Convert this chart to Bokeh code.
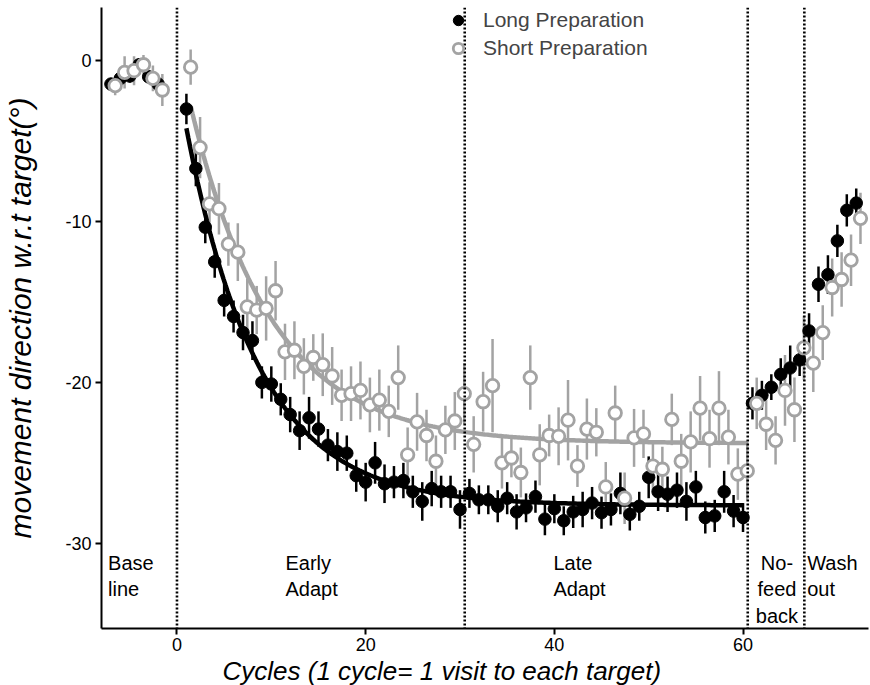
import numpy as np
from bokeh.plotting import figure
from bokeh.models import (ColumnDataSource, Span, Whisker, Legend, LegendItem,
                          FixedTicker, Range1d, Title)
from bokeh.transform import dodge
from bokeh.embed import file_html
from bokeh.resources import INLINE
from bokeh.core.properties import value

# ---------------- data ----------------
cycles = [-7, -6, -5, -4, -3, -2] + list(range(1, 73))

long_mean = [-1.45, -1.1, -0.95, -0.25, -1.0, -1.45,
             -3.0, -6.7, -10.35, -12.5, -14.9, -15.9, -16.9, -17.4, -20.0, -20.1,
             -21.05, -22.0, -23.0, -22.2, -22.9, -23.9, -24.3, -24.4, -25.8, -26.2,
             -25.0, -26.3, -26.2, -26.1, -26.8, -27.4, -26.6, -26.8, -26.8, -27.9,
             -26.9, -27.3, -27.3, -27.7, -27.2, -28.05, -27.8, -27.1, -28.5, -27.85,
             -28.6, -28.05, -27.9, -27.5, -28.1, -27.9, -26.9, -28.2, -27.7, -25.9,
             -26.8, -26.95, -26.7, -27.4, -26.5, -28.4, -28.3, -26.8, -28.0, -28.4,
             -21.3, -20.8, -20.3, -19.5, -19.1, -18.6,
             -16.8, -13.9, -13.3, -11.2, -9.3, -8.85]
long_sem = [0.35, 0.4, 0.4, 0.4, 0.4, 0.4,
            0.95, 1.1, 1.0, 1.0, 1.0, 1.0, 1.1, 1.2, 1.0, 1.1,
            1.0, 1.1, 1.2, 1.3, 1.1, 1.0, 1.2, 1.1, 1.0, 1.2,
            1.3, 1.2, 1.0, 1.1, 1.0, 1.2, 1.1, 1.0, 1.0, 1.2,
            0.9, 0.9, 0.9, 1.0, 1.0, 1.1, 0.9, 1.0, 1.0, 0.9,
            0.9, 1.0, 1.1, 1.0, 1.0, 1.0, 1.3, 1.0, 0.9, 1.3,
            1.2, 1.1, 1.1, 1.2, 1.0, 1.0, 1.0, 1.3, 1.0, 0.9,
            1.0, 0.9, 0.8, 1.0, 1.4, 1.0,
            1.1, 1.1, 1.2, 1.0, 1.0, 0.9]

short_mean = [-1.55, -0.72, -0.62, -0.25, -1.1, -1.82,
              -0.4, -5.4, -8.9, -9.2, -11.4, -11.9, -15.3, -15.5, -15.4, -14.3,
              -18.1, -18.0, -19.0, -18.45, -18.9, -19.6, -20.8, -20.7, -20.5, -21.4,
              -21.1, -21.8, -19.7, -24.5, -22.45, -23.3, -24.9, -22.95, -22.4, -20.7,
              -23.85, -21.2, -20.2, -25.0, -24.7, -25.6, -19.7, -24.5, -23.3, -23.35,
              -22.35, -25.2, -22.9, -23.1, -26.5, -21.9, -27.2, -23.45, -23.2, -25.2,
              -25.4, -22.3, -24.9, -23.7, -21.6, -23.5, -21.6, -23.4, -25.7, -25.5,
              -21.3, -22.6, -23.6, -20.5, -21.7, -17.85,
              -18.8, -16.9, -14.1, -13.6, -12.4, -9.8]
short_sem = [0.6, 1.0, 0.9, 0.6, 0.8, 1.0,
             1.1, 1.9, 1.35, 1.6, 1.35, 1.8, 1.75, 1.5, 2.0, 1.85,
             1.75, 1.8, 1.75, 1.45, 1.95, 1.8, 1.6, 1.7, 1.8, 1.7,
             1.9, 1.6, 2.0, 1.7, 1.8, 1.6, 1.6, 1.5, 1.8, 1.9,
             1.75, 1.86, 2.9, 1.6, 1.2, 1.55, 2.0, 1.9, 1.3, 1.8,
             2.5, 1.3, 1.9, 1.5, 1.55, 1.7, 1.6, 1.8, 1.5, 1.6,
             1.4, 1.6, 1.7, 1.9, 2.0, 1.8, 2.3, 1.7, 1.6, 1.8,
             1.6, 1.6, 1.5, 2.2, 2.0, 2.0,
             1.8, 1.7, 1.8, 1.7, 1.6, 1.6]

phase_bounds = [0, 30.5, 60.5, 66.5]
phase_labels = ["Base\nline", "Early\nAdapt", "Late\nAdapt", "No-\nfeed\nback", "Wash\nout"]
phase_label_x = [-7.3, 11.5, 39.9, 63.6, 66.8]
phase_label_align = ["left", "left", "left", "center", "left"]

x_ticks = [0, 20, 40, 60]
y_ticks = [0, -10, -20, -30]
y_tick_labels = ["0", "-10", "-20", "-30"]

x_title = "Cycles (1 cycle= 1 visit to each target)"
y_title = "movement direction w.r.t target(°)"
series_names = ["Long Preparation", "Short Preparation"]

# ---------------- exponential fits on the adaptation cycles ----------------
def fit_exp(x, y):
    best = None
    for tau in np.linspace(0.5, 40, 3951):
        A = np.column_stack([np.ones_like(x), np.exp(-(x - 1) / tau)])
        coef, *_ = np.linalg.lstsq(A, y, rcond=None)
        sse = float(((A @ coef - y) ** 2).sum())
        if best is None or sse < best[0]:
            best = (sse, tau, coef)
    return best[1], best[2]

cyc = np.array(cycles, dtype=float)
adapt = (cyc >= 1) & (cyc <= 60)
fx = np.linspace(1, 60, 300)
tau_l, c_l = fit_exp(cyc[adapt], np.array(long_mean)[adapt])
tau_s, c_s = fit_exp(cyc[adapt], np.array(short_mean)[adapt])
fit_long = c_l[0] + c_l[1] * np.exp(-(fx - 1) / tau_l)
fit_short = c_s[0] + c_s[1] * np.exp(-(fx - 1) / tau_s)

# ---------------- sources ----------------
lm = np.array(long_mean); ls = np.array(long_sem)
sm = np.array(short_mean); ss = np.array(short_sem)
src = ColumnDataSource(dict(x=cyc, lm=lm, llo=lm - ls, lhi=lm + ls,
                            sm=sm, slo=sm - ss, shi=sm + ss))
fsrc = ColumnDataSource(dict(x=fx, fl=fit_long, fs=fit_short))

FONT = "Liberation Sans"
GRAY = "#a3a3a3"
OFF = 0.45

p = figure(width=870, height=685, output_backend="svg", toolbar_location=None,
           x_range=Range1d(-8, 73.3), y_range=Range1d(-35.3, 3.31),
           min_border_left=101, min_border_right=2, min_border_top=7,
           min_border_bottom=57)
p.outline_line_color = None
p.grid.visible = False
p.background_fill_color = "white"
p.border_fill_color = "white"

# phase boundaries
for b in phase_bounds:
    p.add_layout(Span(location=b, dimension="height", line_color="black",
                      line_width=2.6, line_dash="2 2"))

# fits
p.line(dodge("x", OFF), "fs", source=fsrc, line_color=GRAY, line_width=4.5)
p.line("x", "fl", source=fsrc, line_color="black", line_width=4.5)

# error bars
p.add_layout(Whisker(source=src, base=dodge("x", OFF), lower="slo", upper="shi",
                     line_color=GRAY, line_width=2.5, lower_head=None, upper_head=None))
p.add_layout(Whisker(source=src, base="x", lower="llo", upper="lhi",
                     line_color="black", line_width=2.5, lower_head=None, upper_head=None))

# points (short preparation drawn on top, as in the reference)
r_long = p.scatter("x", "lm", source=src, size=12.5, marker="circle",
                   fill_color="black", line_color="black")
r_short = p.scatter(dodge("x", OFF), "sm", source=src, size=12.5, marker="circle",
                    fill_color="white", line_color=GRAY, line_width=2.8)

# phase labels
lab_src = ColumnDataSource(dict(x=phase_label_x, y=[-30.55] * 5, t=phase_labels,
                                a=phase_label_align))
p.text("x", "y", text="t", source=lab_src, text_align="a", text_baseline="top",
       text_font=value(FONT), text_font_size="20px", text_color="black",
       text_line_height=1.2)

# axes
p.xaxis.ticker = FixedTicker(ticks=x_ticks)
p.yaxis.ticker = FixedTicker(ticks=y_ticks)
p.yaxis.major_label_overrides = {t: l for t, l in zip(y_ticks, y_tick_labels)}
for ax in (p.xaxis[0], p.yaxis[0]):
    ax.axis_line_width = 2
    ax.axis_line_color = "black"
    ax.major_tick_line_width = 2
    ax.major_tick_in = 0
    ax.major_tick_out = 6
    ax.minor_tick_line_color = None
    ax.major_label_text_font = FONT
    ax.major_label_text_font_size = "18px"
    ax.major_label_text_color = "black"
    ax.axis_label_text_font = FONT
    ax.axis_label_text_font_style = "italic"
    ax.axis_label_text_color = "black"
p.xaxis.major_label_standoff = 3
p.yaxis.axis_label = y_title
p.yaxis.axis_label_text_font_size = "30px"
p.yaxis.major_label_standoff = 4
p.yaxis.axis_label_standoff = 25

# x-axis title placed below the axis, shifted left as in the reference
p.add_layout(Title(text=x_title, align="left", offset=121, standoff=0,
                   text_font=FONT, text_font_style="italic", text_font_size="26px",
                   text_color="black"), "below")

# legend
leg = Legend(items=[LegendItem(label=series_names[0], renderers=[r_long]),
                    LegendItem(label=series_names[1], renderers=[r_short])],
             location=(344, 567), border_line_color=None, background_fill_alpha=0,
             padding=0, margin=0, spacing=2, glyph_width=26, glyph_height=26,
             label_height=26, label_standoff=12,
             label_text_font=FONT, label_text_font_size="21px")
p.add_layout(leg)

open("out.html", "w").write(file_html(p, INLINE))
